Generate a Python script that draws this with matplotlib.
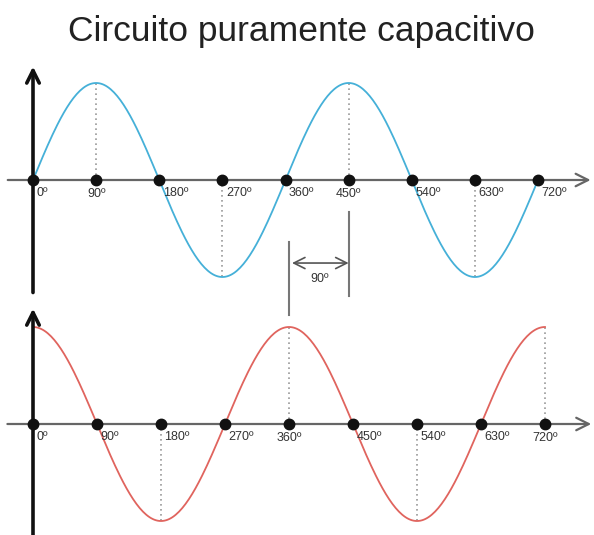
import numpy as np
import matplotlib
matplotlib.use("Agg")
import matplotlib.pyplot as plt

# ---- data ----
degrees = [0, 90, 180, 270, 360, 450, 540, 630, 720]
labels = ["0º", "90º", "180º", "270º", "360º", "450º", "540º", "630º", "720º"]
# voltage (top) and current (bottom) values at each quarter-period point
voltage_vals = [0, 1, 0, -1, 0, 1, 0, -1, 0]
current_vals = [1, 0, -1, 0, 1, 0, -1, 0, 1]
phase_shift_deg = 90
title = "Circuito puramente capacitivo"

W, H = 594, 535
fig = plt.figure(figsize=(W / 100, H / 100), dpi=100)
fig.patch.set_facecolor("white")
plt.rcParams["font.family"] = ["Liberation Sans", "DejaVu Sans"]


def make_ax(top_px, bot_px, axis_px, x0_px, px_per_deg, amp_px):
    ax = fig.add_axes([0, (H - bot_px) / H, 1, (bot_px - top_px) / H])
    ax.set_xlim(-x0_px / px_per_deg, (W - x0_px) / px_per_deg)
    ax.set_ylim(-(bot_px - axis_px) / amp_px, (axis_px - top_px) / amp_px)
    ax.axis("off")
    return ax


ax_top = make_ax(60, 300, 180, 33, 0.7014, 97)
ax_bot = make_ax(300, 535, 424, 33, 0.7111, 97)


def smooth_curve(xs, ys, n=40):
    """Connect quarter-period points with sinusoidal segments."""
    X, Y = [], []
    for i in range(len(xs) - 1):
        t = np.linspace(0, 1, n)
        x = xs[i] + (xs[i + 1] - xs[i]) * t
        a, b = ys[i], ys[i + 1]
        if a == 0:
            y = b * np.sin(t * np.pi / 2)
        else:
            y = a * np.cos(t * np.pi / 2)
        X.extend(x)
        Y.extend(y)
    return np.array(X), np.array(Y)


def draw_panel(ax, vals, color, xaxis_start, xaxis_end, yaxis_top, yaxis_bot):
    # horizontal axis
    ax.annotate("", xy=(xaxis_end, 0), xytext=(xaxis_start, 0),
                arrowprops=dict(arrowstyle="->,head_length=0.9,head_width=0.45",
                                color="#666666", lw=1.6, shrinkA=0, shrinkB=0),
                annotation_clip=False)
    # vertical axis
    ax.annotate("", xy=(0, yaxis_top), xytext=(0, yaxis_bot),
                arrowprops=dict(arrowstyle="->,head_length=0.9,head_width=0.45",
                                color="#111111", lw=2.6, shrinkA=0, shrinkB=0),
                annotation_clip=False)
    # dotted guides at extremes
    for d, v in zip(degrees, vals):
        if v != 0 and d != 0:
            ax.plot([d, d], [0, v], ls=(0, (1, 2)), color="#999999", lw=1.2, zorder=1)
    # curve
    x, y = smooth_curve(degrees, vals)
    ax.plot(x, y, color=color, lw=1.3, zorder=2)
    # dots and labels
    ax.plot(degrees, [0] * len(degrees), "o", color="#111111", ms=7.5, zorder=4)
    for d, v, lab in zip(degrees, vals, labels):
        if v > 0 and d != 0:
            ax.annotate(lab, (d, 0), xytext=(0, -5.8), textcoords="offset points",
                        ha="center", va="top", fontsize=9, color="#333333")
        else:
            ax.annotate(lab, (d, 0), xytext=(2.5, -5.0), textcoords="offset points",
                        ha="left", va="top", fontsize=9, color="#333333")


draw_panel(ax_top, voltage_vals, "#45b0d8", -36, 795, 1.17, -1.16)
draw_panel(ax_bot, current_vals, "#e0645e", -36, 785, 1.19, -1.16)

# phase shift marker
ax_bot.plot([360, 360], [1.876, 1.124], color="#777777", lw=1.5, clip_on=False)
ax_top.plot([360 + phase_shift_deg, 360 + phase_shift_deg], [-0.33, -1.196],
            color="#777777", lw=1.5, clip_on=False)
ax_top.annotate("", xy=(ax_top.get_xlim()[0] + (292 / W) * np.diff(ax_top.get_xlim())[0], -0.856),
                xytext=(450, -0.856),
                arrowprops=dict(arrowstyle="<->,head_length=0.8,head_width=0.4",
                                color="#555555", lw=1.2, shrinkA=0, shrinkB=0),
                annotation_clip=False)
ax_top.text(409, -1.02, f"{phase_shift_deg}º", ha="center", va="center",
            fontsize=9, color="#333333")

fig.text(301.5 / W, 1 - 41 / H, title, ha="center", va="baseline",
         fontsize=25.5, color="#222222")

fig.savefig("out.png", dpi=100, facecolor="white")
